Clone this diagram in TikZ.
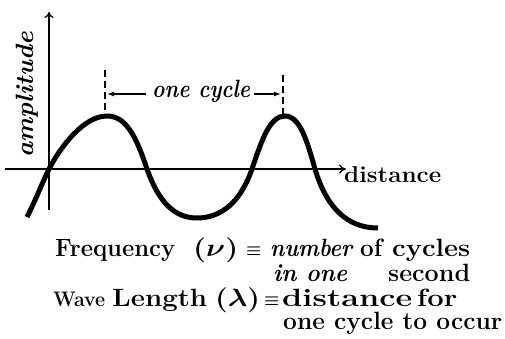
\RequirePackage{fix-cm}
\documentclass[tikz,border=0pt]{standalone}
\usetikzlibrary{arrows.meta}
\newcommand{\fitto}[2]{\resizebox{#1pt}{\height}{#2}}
\begin{document}
\begin{tikzpicture}[x=1pt,y=-1pt,
  axis/.style={line width=1.3pt},
  wave/.style={line width=5pt},
  guide/.style={line width=2.6pt, dash pattern=on 7pt off 4pt},
  txt/.style={inner sep=0pt, anchor=base west, font=\fontsize{25}{30}\selectfont\bfseries\mathversion{bold}},
  itxt/.style={txt, font=\fontsize{25}{30}\selectfont\bfseries\itshape},
  eqv/.style={inner sep=0pt, anchor=base west, font=\fontsize{17}{20}\selectfont\mathversion{bold}},
  cyc/.style={line width=1.3pt, -{Latex[length=7pt,width=5pt]}}]
\useasboundingbox (0,0) rectangle (505,338);
% axes
\coordinate (yb) at (49,210);
\coordinate (yt) at (49,12);
\coordinate (xl) at (5,169);
\coordinate (xr) at (346,169);
\draw[axis,-{To[length=6pt,width=9pt]}] (yb) -- (yt);
\draw[axis,-{To[length=7pt,width=9pt]}] (xl) -- (xr);
% wave
\draw[wave] (27,217) .. controls (37,197) and (43,181) .. (49,169)
  .. controls (61,146) and (84,116) .. (107,116)
  .. controls (126,116) and (136,136) .. (147,169)
  .. controls (159,203) and (175,218) .. (197,218)
  .. controls (222,218) and (241,201) .. (252,169)
  .. controls (262,139) and (270,116) .. (285,116)
  .. controls (300,116) and (307,141) .. (315,169)
  .. controls (326,206) and (346,228) .. (378,228);
% guides
\coordinate (g1t) at (105,70);
\coordinate (g1b) at (105,115);
\coordinate (g2t) at (283,75);
\coordinate (g2b) at (283,115);
\draw[guide] (g1t) -- (g1b);
\draw[guide] (g2t) -- (g2b);
\node[itxt] (oc) at (152,97) {\fitto{98}{one cycle}};
\coordinate (a1) at (107,94);
\coordinate (a2) at (281,94);
\draw[cyc] (oc.west |- a1) ++(-6,0) -- (a1);
\draw[cyc] (oc.east |- a2) ++(4,0) -- (a2);
% labels
\node[txt, font=\fontsize{23}{28}\selectfont\bfseries] (dist) at (344,182) {\fitto{97}{distance}};
\node[itxt, rotate=90] (amp) at (33,158) {\fitto{126}{amplitude}};
% definitions
\node[txt] (freq) at (55,256) {\fitto{120}{Frequency}};
\node[txt] (nu) at (193,256) {\fitto{45}{($\nu$)}};
\node[eqv] (eq1) at (246,255) {$\equiv$};
\node[itxt] (num) at (270,256) {\fitto{82}{number}};
\node[txt] (of) at (360,256) {\fitto{22}{of}};
\node[txt] (cyc) at (392,256) {\fitto{78}{cycles}};
\node[itxt] (inone) at (273,281) {\fitto{74}{in one}};
\node[txt] (sec) at (388,281) {\fitto{82}{second}};
\node[txt, font=\fontsize{21}{26}\selectfont\bfseries] (wave) at (53,306) {\fitto{52}{Wave}};
\node[txt] (len) at (112,306) {\fitto{95}{Length}};
\node[txt] (lam) at (215,306) {\fitto{45}{($\lambda$)}};
\node[eqv] (eq2) at (264,305) {$\equiv$};
\node[txt] (dis2) at (282,306) {\fitto{130}{distance}};
\node[txt] (for) at (417,306) {\fitto{40}{for}};
\node[txt] (occ) at (283,329) {\fitto{219}{one cycle to occur}};
\end{tikzpicture}
\end{document}
